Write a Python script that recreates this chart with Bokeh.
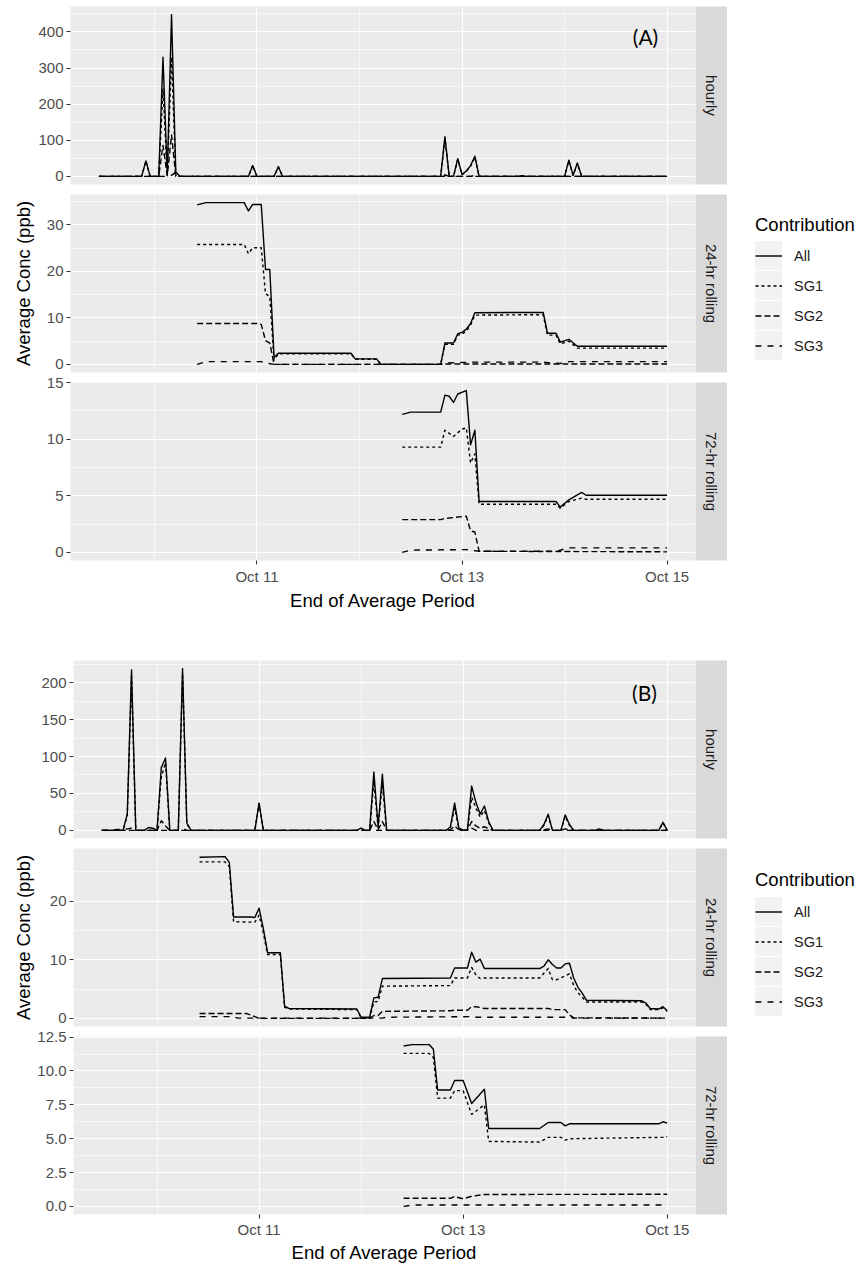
import numpy as np
import pandas as pd
from bokeh.plotting import figure
from bokeh.models import (Range1d, FixedTicker, DatetimeTickFormatter, NumeralTickFormatter,
                          BasicTickFormatter, Label, Legend, LegendItem)
from bokeh.layouts import row, column
from bokeh.embed import file_html
from bokeh.resources import INLINE

# ---------------------------------------------------------------- data
START = "2018-10-09 00:00"          # hour offsets below are counted from this time
X_TICKS = ["2018-10-11", "2018-10-13", "2018-10-15"]
X_MINOR = ["2018-10-10", "2018-10-12", "2018-10-14"]
SERIES = ["All", "SG1", "SG2", "SG3"]
FACETS = ["hourly", "24-hr rolling", "72-hr rolling"]
Y_TITLE = "Average Conc (ppb)"
X_TITLE = "End of Average Period"
LEGEND_TITLE = "Contribution"

# ---- (A) hourly
A_HR_ALL_H = [11, 21, 22, 23, 25, 26, 27, 28, 29, 30, 46, 47, 48, 52, 53, 54, 91, 92, 93, 94, 95, 96, 97, 98, 99, 100, 109, 110, 111, 120, 121, 122, 123, 124, 144]
A_HR_ALL_V = [0, 0, 43, 0, 0, 330, 5, 448, 12, 0, 0, 30, 0, 0, 27, 0, 0, 110, 0, 0, 49, 5, 15, 30, 56, 0, 0, 2, 0, 0, 45, 3, 37, 0, 0]
A_HR_SG1_H = [11, 21, 22, 23, 25, 26, 27, 28, 29, 46, 47, 48, 52, 53, 54, 91, 92, 93, 94, 95, 96, 97, 98, 99, 100, 120, 121, 122, 123, 124, 144]
A_HR_SG1_V = [0, 0, 43, 0, 0, 242, 3, 330, 0, 0, 30, 0, 0, 27, 0, 0, 104, 0, 0, 47, 5, 14, 28, 53, 0, 0, 43, 3, 35, 0, 0]
A_HR_SG2_H = [11, 25, 26, 27, 28, 29, 144]
A_HR_SG2_V = [0, 0, 86, 2, 115, 0, 0]
A_HR_SG3_H = [11, 27, 28, 29, 30, 91, 92, 93, 98, 99, 100, 144]
A_HR_SG3_V = [0, 0, 3, 12, 0, 0, 4, 0, 0, 3, 0, 0]
# ---- (A) 24-hr rolling
A_24_ALL_H = [34, 36, 45, 46, 47, 49, 50, 51, 52, 53, 70, 71, 76, 77, 91, 92, 94, 95, 96, 97, 98, 99, 115, 116, 118, 119, 121, 123, 144]
A_24_ALL_V = [34.3, 34.8, 34.8, 33.0, 34.4, 34.4, 20.4, 20.4, 1.5, 2.4, 2.4, 1.2, 1.2, 0, 0, 4.6, 4.6, 6.6, 6.9, 7.6, 8.8, 11.1, 11.2, 6.7, 6.7, 4.8, 5.4, 3.9, 3.9]
A_24_SG1_H = [34, 45, 46, 47, 49, 50, 51, 52, 53, 70, 71, 76, 77, 91, 92, 94, 95, 96, 97, 98, 99, 115, 116, 118, 119, 121, 123, 144]
A_24_SG1_V = [25.8, 25.8, 23.8, 25.1, 25.1, 15.2, 14.6, 0.9, 2.3, 2.3, 1.1, 1.1, 0, 0, 4.3, 4.3, 6.3, 6.5, 7.2, 8.4, 10.6, 10.7, 6.3, 6.3, 4.4, 5.0, 3.5, 3.5]
A_24_SG2_H = [34, 48, 49, 50, 51, 52, 91, 92, 144]
A_24_SG2_V = [8.8, 8.8, 8.6, 5.1, 4.6, 0, 0, 0.1, 0.1]
A_24_SG3_H = [34, 36, 49, 50, 52, 91, 92, 99, 115, 117, 119, 121, 144]
A_24_SG3_V = [0, 0.6, 0.6, 0.3, 0, 0, 0.3, 0.5, 0.5, 0.3, 0.2, 0.6, 0.6]
# ---- (A) 72-hr rolling
A_72_ALL_H = [82, 84, 91, 92, 93, 94, 95, 97, 98, 99, 100, 118, 119, 121, 124, 125, 144]
A_72_ALL_V = [12.2, 12.4, 12.4, 13.9, 13.8, 13.25, 14.0, 14.3, 9.5, 10.8, 4.5, 4.5, 4.0, 4.65, 5.3, 5.05, 5.05]
A_72_SG1_H = [82, 91, 92, 94, 96, 97, 98, 99, 100, 118, 119, 121, 124, 125, 144]
A_72_SG1_V = [9.3, 9.3, 10.8, 10.25, 10.9, 11.0, 7.9, 8.7, 4.25, 4.25, 3.9, 4.5, 4.8, 4.7, 4.7]
A_72_SG2_H = [82, 91, 92, 97, 98, 99, 100, 144]
A_72_SG2_V = [2.9, 2.9, 3.0, 3.2, 1.9, 1.8, 0.1, 0.05]
A_72_SG3_H = [82, 84, 97, 100, 118, 121, 144]
A_72_SG3_V = [0.0, 0.2, 0.25, 0.1, 0.1, 0.4, 0.4]

# ---- (B) hourly
B_HR_ALL_H = [11, 16, 17, 18, 19, 21, 22, 23, 24, 25, 26, 27, 29, 30, 31, 32, 47, 48, 49, 71, 72, 73, 74, 75, 76, 77, 78, 92, 93, 94, 95, 96, 97, 98, 99, 100, 101, 102, 103, 114, 115, 116, 117, 119, 120, 121, 122, 127, 128, 129, 142, 143, 144]
B_HR_ALL_V = [0, 0, 22, 217, 0, 0, 4, 3, 0, 85, 98, 0, 0, 219, 10, 0, 0, 37, 0, 0, 3, 0, 0, 79, 5, 76, 0, 0, 5, 37, 3, 0, 0, 60, 38, 22, 33, 12, 0, 0, 8, 22, 0, 0, 21, 8, 0, 0, 2, 0, 0, 11, 0]
B_HR_SG1_H = [11, 16, 17, 18, 19, 24, 25, 26, 27, 29, 30, 31, 32, 47, 48, 49, 74, 75, 76, 77, 78, 92, 93, 94, 95, 97, 98, 99, 100, 101, 102, 103, 114, 115, 116, 117, 119, 120, 121, 122, 142, 143, 144]
B_HR_SG1_V = [0, 0, 20, 208, 0, 0, 72, 92, 0, 0, 212, 9, 0, 0, 36, 0, 0, 66, 4, 63, 0, 0, 4, 30, 2, 0, 45, 30, 18, 27, 10, 0, 0, 7, 20, 0, 0, 19, 7, 0, 0, 10, 0]
B_HR_SG2_H = [11, 24, 25, 26, 27, 74, 75, 76, 77, 78, 92, 93, 94, 95, 97, 98, 99, 100, 101, 102, 103, 114, 115, 116, 117, 119, 120, 121, 122, 144]
B_HR_SG2_V = [0, 0, 13, 6, 0, 0, 12, 1, 12, 0, 0, 1, 6, 1, 0, 12, 6, 3, 5, 2, 0, 0, 1, 2, 0, 0, 2, 1, 0, 0]
B_HR_SG3_H = [11, 17, 18, 19, 29, 30, 31, 97, 98, 99, 144]
B_HR_SG3_V = [0, 2, 3, 0, 0, 3, 0, 0, 3, 0, 0]
# ---- (B) 24-hr rolling
B_24_ALL_H = [34, 40, 41, 42, 46, 47, 48, 49, 50, 53, 54, 55, 71, 72, 74, 75, 76, 77, 93, 94, 97, 98, 99, 100, 101, 114, 115, 116, 117, 118, 119, 120, 121, 122, 123, 124, 125, 138, 139, 140, 142, 143, 144]
B_24_ALL_V = [27.5, 27.6, 26.6, 17.3, 17.3, 17.2, 18.8, 15.3, 11.2, 11.2, 2.1, 1.7, 1.6, 0.2, 0.2, 3.5, 3.6, 6.8, 6.9, 8.6, 8.6, 11.3, 9.6, 10.1, 8.5, 8.5, 8.9, 10.0, 9.2, 8.6, 8.6, 9.3, 9.4, 6.9, 5.3, 4.3, 3.1, 3.0, 2.6, 1.7, 1.6, 2.0, 1.3]
B_24_SG1_H = [34, 40, 41, 42, 47, 48, 49, 50, 53, 54, 55, 71, 72, 74, 75, 76, 77, 93, 94, 97, 98, 99, 100, 101, 114, 116, 117, 118, 121, 122, 123, 124, 125, 138, 139, 140, 142, 143, 144]
B_24_SG1_V = [26.7, 26.7, 25.9, 16.5, 16.4, 17.6, 14.6, 10.9, 10.9, 1.9, 1.6, 1.5, 0.1, 0.1, 2.8, 2.9, 5.5, 5.6, 6.9, 6.9, 8.7, 7.4, 6.8, 6.9, 6.9, 8.5, 6.6, 6.6, 7.6, 5.6, 4.4, 3.6, 2.8, 2.8, 2.4, 1.5, 1.5, 1.8, 1.2]
B_24_SG2_H = [34, 45, 47, 48, 74, 75, 76, 77, 93, 94, 97, 98, 99, 101, 116, 117, 120, 121, 122, 144]
B_24_SG2_V = [0.85, 0.85, 0.3, 0.0, 0.0, 0.5, 0.5, 1.2, 1.3, 1.4, 1.4, 2.0, 2.0, 1.7, 1.7, 1.5, 1.5, 0.6, 0.1, 0.05]
B_24_SG3_H = [34, 42, 43, 77, 78, 98, 99, 121, 122, 144]
B_24_SG3_V = [0.3, 0.3, 0.05, 0.05, 0.2, 0.3, 0.2, 0.2, 0.05, 0.05]
# ---- (B) 72-hr rolling
B_72_ALL_H = [82, 84, 88, 89, 90, 93, 94, 96, 98, 101, 102, 114, 116, 119, 120, 121, 142, 143, 144]
B_72_ALL_V = [11.85, 11.95, 11.95, 11.6, 8.6, 8.6, 9.3, 9.3, 7.6, 8.65, 5.75, 5.75, 6.2, 6.2, 5.95, 6.1, 6.1, 6.25, 6.15]
B_72_SG1_H = [82, 88, 89, 90, 93, 94, 96, 98, 101, 102, 114, 116, 119, 120, 121, 143, 144]
B_72_SG1_V = [11.3, 11.3, 11.0, 8.0, 8.0, 8.55, 8.55, 6.8, 7.5, 4.8, 4.75, 5.1, 5.1, 4.9, 5.0, 5.1, 5.15]
B_72_SG2_H = [82, 93, 94, 96, 98, 101, 144]
B_72_SG2_V = [0.6, 0.6, 0.73, 0.56, 0.75, 0.88, 0.9]
B_72_SG3_H = [82, 84, 144]
B_72_SG3_V = [0.0, 0.1, 0.1]

# ---- y ticks per panel
A_HR_TICKS, A_HR_MINOR = [0, 100, 200, 300, 400], [50, 150, 250, 350, 450]
A_24_TICKS, A_24_MINOR = [0, 10, 20, 30], [5, 15, 25, 35]
A_72_TICKS, A_72_MINOR = [0, 5, 10, 15], [2.5, 7.5, 12.5]
B_HR_TICKS, B_HR_MINOR = [0, 50, 100, 150, 200], [25, 75, 125, 175, 225]
B_24_TICKS, B_24_MINOR = [0, 10, 20], [5, 15, 25]
B_72_TICKS, B_72_MINOR = [0, 2.5, 5, 7.5, 10, 12.5], [1.25, 3.75, 6.25, 8.75, 11.25]

# ---------------------------------------------------------------- style
FONT = "Liberation Sans"
DASH = {"All": "solid", "SG1": "3 3", "SG2": "6 3", "SG3": "6 6"}
LINE_W = 1.4
FRAME_H = 178
PANEL_W = 695
STRIP_W = 32
LEG_W = 133
EPOCH = pd.Timestamp("1970-01-01")


def to_time(hours):
    return pd.Timestamp(START) + pd.to_timedelta(np.asarray(hours, dtype=float), unit="h")


def to_ms(ts):
    return (pd.Timestamp(ts) - EPOCH) / pd.Timedelta(milliseconds=1)


def make_xrange(groups):
    hs = np.concatenate([np.asarray(h, float) for g in groups for (h, _) in g])
    lo, hi = hs.min(), hs.max()
    pad = 0.05 * (hi - lo)
    return Range1d(start=to_ms(to_time([lo - pad])[0]), end=to_ms(to_time([hi + pad])[0]))


def make_panel(series, ticks, minor, fmt, xr, left, top, bottom, show_x,
               ylabel=None, ylabel_standoff=10, xlabel_standoff=0, xtick_standoff=2,
               tag=None, tag_xy=(575, 148)):
    vals = np.concatenate([np.asarray(v, float) for (_, v) in series])
    lo, hi = vals.min(), vals.max()
    pad = 0.05 * (hi - lo)
    p = figure(width=PANEL_W, height=FRAME_H + top + bottom, x_axis_type="datetime",
               x_range=xr, y_range=Range1d(lo - pad, hi + pad), title=None,
               toolbar_location=None, output_backend="svg",
               min_border_left=left, min_border_right=0,
               min_border_top=top, min_border_bottom=bottom)
    p.background_fill_color = "#EBEBEB"
    p.border_fill_color = "white"
    p.outline_line_color = None

    xt = FixedTicker(ticks=[to_ms(t) for t in X_TICKS], minor_ticks=[to_ms(t) for t in X_MINOR])
    yt = FixedTicker(ticks=ticks, minor_ticks=minor)
    p.xaxis.ticker = xt
    p.xgrid.ticker = xt
    p.yaxis.ticker = yt
    p.ygrid.ticker = yt
    p.yaxis.formatter = fmt
    fmt_s = "%b %d"
    p.xaxis.formatter = DatetimeTickFormatter(milliseconds=fmt_s, seconds=fmt_s, minsec=fmt_s,
                                              minutes=fmt_s, hourmin=fmt_s, hours=fmt_s,
                                              days=fmt_s, months=fmt_s, years=fmt_s)
    p.grid.grid_line_color = "white"
    p.grid.grid_line_width = 1.2
    p.grid.minor_grid_line_color = "white"
    p.grid.minor_grid_line_width = 0.6

    for ax in p.axis:
        ax.axis_line_color = None
        ax.major_tick_line_color = "#333333"
        ax.major_tick_line_width = 1.1
        ax.major_tick_out = 4
        ax.major_tick_in = 0
        ax.minor_tick_line_color = None
        ax.major_label_text_font = FONT
        ax.major_label_text_font_size = "15px"
        ax.major_label_text_color = "#4D4D4D"
        ax.major_label_standoff = 3
        ax.axis_label_text_font = FONT
        ax.axis_label_text_font_size = "18.5px"
        ax.axis_label_text_font_style = "normal"
        ax.axis_label_text_color = "black"
    p.xaxis.major_label_standoff = xtick_standoff
    p.xaxis.visible = show_x
    if show_x:
        p.xaxis.axis_label = X_TITLE
        p.xaxis.axis_label_standoff = xlabel_standoff
    if ylabel:
        p.yaxis.axis_label = ylabel
        p.yaxis.axis_label_standoff = ylabel_standoff

    for (h, v), name in zip(series, SERIES):
        p.line(to_time(h), v, line_color="black", line_width=LINE_W,
               line_dash=DASH[name], line_join="round")

    if tag:
        p.add_layout(Label(x=tag_xy[0], y=tag_xy[1], x_units="screen", y_units="screen",
                           text=tag, text_align="center", text_baseline="middle",
                           text_font="Lato", text_font_size="21px", text_color="black"))
    return p


def make_strip(text, top, bottom):
    s = figure(width=STRIP_W, height=FRAME_H + top + bottom, x_range=(0, 1), y_range=(0, 1),
               title=None, toolbar_location=None, output_backend="svg",
               min_border_left=0, min_border_right=0, min_border_top=top, min_border_bottom=bottom,
               x_axis_location=None, y_axis_location=None)
    s.grid.visible = False
    s.background_fill_color = "#D9D9D9"
    s.border_fill_color = "white"
    s.outline_line_color = None
    s.add_layout(Label(x=0.5, y=0.5, text=text, angle=-90, angle_units="deg",
                       text_align="center", text_baseline="middle",
                       text_font=FONT, text_font_size="15px", text_color="#1A1A1A"))
    return s


def make_legend_fig(height, top, title_standoff):
    lf = figure(width=LEG_W, height=height, title=None, toolbar_location=None,
                output_backend="svg", min_border_left=28, min_border_right=0,
                min_border_top=top, min_border_bottom=0,
                x_axis_location=None, y_axis_location=None)
    lf.grid.visible = False
    lf.outline_line_color = None
    lf.background_fill_color = "white"
    lf.border_fill_color = "white"
    common = dict(location="top_left", margin=0, padding=0, spacing=1,
                  glyph_width=27, glyph_height=29,
                  background_fill_alpha=0, border_line_color=None,
                  title_text_font=FONT, title_text_font_size="18.5px",
                  title_text_font_style="normal", title_standoff=title_standoff)
    nan = [float("nan")]
    if "item_background_policy" in Legend.properties():
        bg_items = []
        for name in SERIES:
            r0 = lf.line(nan, nan, line_alpha=0)
            bg_items.append(LegendItem(label=" ", renderers=[r0]))
        bg = Legend(items=bg_items, title=" ", label_standoff=0, label_width=0,
                    label_text_font_size="14.5px",
                    item_background_policy="every", item_background_fill_color="#F2F2F2",
                    item_background_fill_alpha=1.0, **common)
        lf.add_layout(bg)
    items = []
    for name in SERIES:
        r = lf.line(nan, nan, line_color="black", line_width=LINE_W, line_dash=DASH[name])
        items.append(LegendItem(label=name, renderers=[r]))
    leg = Legend(items=items, title=LEGEND_TITLE, label_standoff=12,
                 label_text_font=FONT, label_text_font_size="14.5px",
                 label_text_color="#1A1A1A", title_text_color="black", **common)
    lf.add_layout(leg)
    return lf


# ---------------------------------------------------------------- plot (A)
A_HR = [(A_HR_ALL_H, A_HR_ALL_V), (A_HR_SG1_H, A_HR_SG1_V), (A_HR_SG2_H, A_HR_SG2_V), (A_HR_SG3_H, A_HR_SG3_V)]
A_24 = [(A_24_ALL_H, A_24_ALL_V), (A_24_SG1_H, A_24_SG1_V), (A_24_SG2_H, A_24_SG2_V), (A_24_SG3_H, A_24_SG3_V)]
A_72 = [(A_72_ALL_H, A_72_ALL_V), (A_72_SG1_H, A_72_SG1_V), (A_72_SG2_H, A_72_SG2_V), (A_72_SG3_H, A_72_SG3_V)]
B_HR = [(B_HR_ALL_H, B_HR_ALL_V), (B_HR_SG1_H, B_HR_SG1_V), (B_HR_SG2_H, B_HR_SG2_V), (B_HR_SG3_H, B_HR_SG3_V)]
B_24 = [(B_24_ALL_H, B_24_ALL_V), (B_24_SG1_H, B_24_SG1_V), (B_24_SG2_H, B_24_SG2_V), (B_24_SG3_H, B_24_SG3_V)]
B_72 = [(B_72_ALL_H, B_72_ALL_V), (B_72_SG1_H, B_72_SG1_V), (B_72_SG2_H, B_72_SG2_V), (B_72_SG3_H, B_72_SG3_V)]

int_fmt = BasicTickFormatter()
one_dec = NumeralTickFormatter(format="0.0")

GAP_B, GAP_T = 3, 7   # split of the 10px gap between stacked panels

xrA = make_xrange([A_HR, A_24, A_72])
A_TOP, A_BOT = 6, 57
pA1 = make_panel(A_HR, A_HR_TICKS, A_HR_MINOR, int_fmt, xrA, 70, A_TOP, GAP_B, False,
                 tag="(A)", tag_xy=(575, 148))
pA2 = make_panel(A_24, A_24_TICKS, A_24_MINOR, int_fmt, xrA, 70, GAP_T, GAP_B, False,
                 ylabel=Y_TITLE, ylabel_standoff=10)
pA3 = make_panel(A_72, A_72_TICKS, A_72_MINOR, int_fmt, xrA, 70, GAP_T, A_BOT, True,
                 xlabel_standoff=2, xtick_standoff=3)
sA = column(make_strip(FACETS[0], A_TOP, GAP_B), make_strip(FACETS[1], GAP_T, GAP_B),
            make_strip(FACETS[2], GAP_T, A_BOT))
hA = 3 * FRAME_H + A_TOP + 2 * (GAP_B + GAP_T) + A_BOT
legA = make_legend_fig(hA, 214, 5)
rowA = row(column(pA1, pA2, pA3), sA, legA)

# ---------------------------------------------------------------- plot (B)
xrB = make_xrange([B_HR, B_24, B_72])
B_TOP, B_BOT = 43, 53
pB1 = make_panel(B_HR, B_HR_TICKS, B_HR_MINOR, int_fmt, xrB, 73, B_TOP, GAP_B, False,
                 tag="(B)", tag_xy=(571, 146))
pB2 = make_panel(B_24, B_24_TICKS, B_24_MINOR, int_fmt, xrB, 73, GAP_T, GAP_B, False,
                 ylabel=Y_TITLE, ylabel_standoff=13)
pB3 = make_panel(B_72, B_72_TICKS, B_72_MINOR, one_dec, xrB, 73, GAP_T, B_BOT, True,
                 xlabel_standoff=1, xtick_standoff=2)
sB = column(make_strip(FACETS[0], B_TOP, GAP_B), make_strip(FACETS[1], GAP_T, GAP_B),
            make_strip(FACETS[2], GAP_T, B_BOT))
hB = 3 * FRAME_H + B_TOP + 2 * (GAP_B + GAP_T) + B_BOT
legB = make_legend_fig(hB, 252, 6)
rowB = row(column(pB1, pB2, pB3), sB, legB)

root = column(rowA, rowB)
open("out.html", "w").write(file_html(root, INLINE))
